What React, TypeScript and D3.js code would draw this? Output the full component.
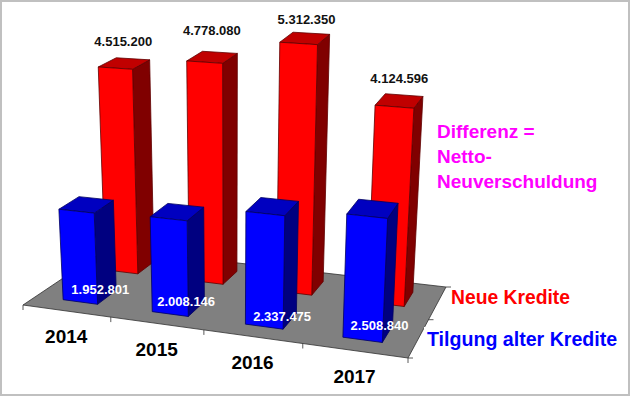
import React from "react";
import * as d3 from "d3";

const years = ["2014", "2015", "2016", "2017"];
const neueKredite = [4515200, 4778080, 5312350, 4124596];
const tilgung = [1952801, 2008146, 2337475, 2508840];

const W = 630, H = 396;
// floor corners: front-left, front-right, back-right, back-left
const FL: [number, number] = [23, 305], FR: [number, number] = [408, 358], BR: [number, number] = [446, 287], BL: [number, number] = [108, 248];

function homography(p0: number[], p1: number[], p2: number[], p3: number[]) {
  // unit square (0,0),(1,0),(1,1),(0,1) -> p0,p1,p2,p3
  const dx1 = p1[0] - p2[0], dx2 = p3[0] - p2[0], sx = p0[0] - p1[0] + p2[0] - p3[0];
  const dy1 = p1[1] - p2[1], dy2 = p3[1] - p2[1], sy = p0[1] - p1[1] + p2[1] - p3[1];
  const det = dx1 * dy2 - dx2 * dy1;
  const g = (sx * dy2 - dx2 * sy) / det, h = (dx1 * sy - sx * dy1) / det;
  const a = p1[0] - p0[0] + g * p1[0], b = p3[0] - p0[0] + h * p3[0], c = p0[0];
  const d = p1[1] - p0[1] + g * p1[1], e = p3[1] - p0[1] + h * p3[1], f = p0[1];
  return (u: number, v: number): [number, number] => {
    const w = g * u + h * v + 1;
    return [(a * u + b * v + c) / w, (d * u + e * v + f) / w];
  };
}
const ground = homography(FL, FR, BR, BL);

const uBand = d3.scaleBand<string>().domain(years).range([0, 1]).paddingInner(0.608).paddingOuter(0.31);
const vBand = d3.scaleBand<string>().domain(["blue", "red"]).range([0, 1]).paddingInner(0.555).paddingOuter(0.277);
const hScale = d3.scaleLinear().domain([0, 1000000]).range([0, 46.4]);

// point above the floor at (u,v), value above ground
function project(uRaw: number, v: number, value: number): [number, number] {
  const u = uRaw + 0.028 * uRaw * (1 - uRaw);
  const [x, y] = ground(u, v);
  const persp = 1 + (3.7 * u - 2.75 * v) / 46.4;
  const h = hScale(value) * persp;
  return [x + (x - 230) * h * 2.8e-4, y - h];
}

const poly = (pts: [number, number][]) => (d3.line()(pts) as string) + "Z";

function Bar({ year, series, value, fills, stroke }: { year: string; series: string; value: number; fills: string[]; stroke: string }) {
  const u0 = uBand(year)!, u1 = u0 + uBand.bandwidth();
  const v0 = vBand(series)!, v1 = v0 + vBand.bandwidth();
  const a0 = project(u0, v0, 0), b0 = project(u1, v0, 0), c0 = project(u1, v1, 0);
  const a1 = project(u0, v0, value), b1 = project(u1, v0, value), c1 = project(u1, v1, value), d1 = project(u0, v1, value);
  return (
    <g stroke={stroke} strokeWidth={0.8} strokeLinejoin="round">
      <path d={poly([b0, c0, c1, b1])} fill={fills[2]} />
      <path d={poly([a1, b1, c1, d1])} fill={fills[1]} />
      <path d={poly([a0, b0, b1, a1])} fill={fills[0]} />
    </g>
  );
}

const numFmt = d3.formatLocale({ decimal: ",", thousands: ".", grouping: [3], currency: ["", ""] }).format(",d");
const redLabelLift = [17, 22, 14, 18];
const redLabelShift = [-1, -0.5, 1.5, 0];
const blueLabelShift = [20, 16, 18, 17];
const blueLabelLift = [8, 8, 6, 10];
const yearDrop = 32.5;

const FONT = "'Liberation Sans', Arial, sans-serif";

export default function App() {
  const uTicks = d3.range(0, 5).map((i) => i / 4);
  return (
    <svg width={W} height={H} style={{ position: "absolute", left: 0, top: 0 }} fontFamily={FONT}>
      <rect x={1} y={1} width={W - 2} height={H - 2} fill="#fff" stroke="#c0c0c0" strokeWidth={2} />
      <path d={poly([FL, FR, BR, BL])} fill="#808080" stroke="#303030" strokeWidth={0.8} />
      {uTicks.map((t) => {
        const p = ground(t, 0);
        return <line key={t} x1={p[0]} y1={p[1]} x2={p[0]} y2={p[1] + 5} stroke="#303030" strokeWidth={0.8} />;
      })}
      {[0, 0.5, 1].map((t) => {
        const p = ground(1, t);
        return <line key={t} x1={p[0]} y1={p[1]} x2={p[0] + 5} y2={p[1]} stroke="#303030" strokeWidth={0.8} />;
      })}
      <rect x={424} y={327} width={10} height={20} fill="#fff" />
      {years.map((y, i) => (
        <Bar key={y} year={y} series="red" value={neueKredite[i]} fills={["#ff0000", "#c00000", "#800000"]} stroke="#600000" />
      ))}
      {years.map((y, i) => (
        <Bar key={y} year={y} series="blue" value={tilgung[i]} fills={["#0000ff", "#0000c0", "#000080"]} stroke="#000060" />
      ))}
      {years.map((y, i) => {
        const top = project(uBand(y)! + uBand.bandwidth() / 2, vBand("red")! + vBand.bandwidth() / 2, neueKredite[i]);
        return (
          <text key={y} x={top[0] + redLabelShift[i]} y={top[1] - redLabelLift[i]} textAnchor="middle" fontSize={13} fontWeight="bold" fill="#111">
            {numFmt(neueKredite[i])}
          </text>
        );
      })}
      {years.map((y, i) => {
        const base = project(uBand(y)! + uBand.bandwidth() / 2, vBand("blue")!, 0);
        return (
          <text key={y} x={base[0] + blueLabelShift[i]} y={base[1] - blueLabelLift[i]} textAnchor="middle" fontSize={13} fontWeight="bold" fill="#fff">
            {numFmt(tilgung[i])}
          </text>
        );
      })}
      {years.map((y, i) => {
        const p = ground((i + 0.5) / 4, 0);
        return (
          <text key={y} x={p[0]} y={p[1] + yearDrop} textAnchor="middle" fontSize={19} fontWeight="bold" fill="#000">
            {y}
          </text>
        );
      })}
      <g fontWeight="bold">
        <g fontSize={19} fill="#ff00ff">
          <text x={437} y={138}>Differenz =</text>
          <text x={437} y={163}>Netto-</text>
          <text x={437} y={188}>Neuverschuldung</text>
        </g>
        <text x={451} y={304} fontSize={19.3} fill="#ff0000">Neue Kredite</text>
        <text x={427} y={346} fontSize={19.6} fill="#0000ff">Tilgung alter Kredite</text>
      </g>
    </svg>
  );
}
